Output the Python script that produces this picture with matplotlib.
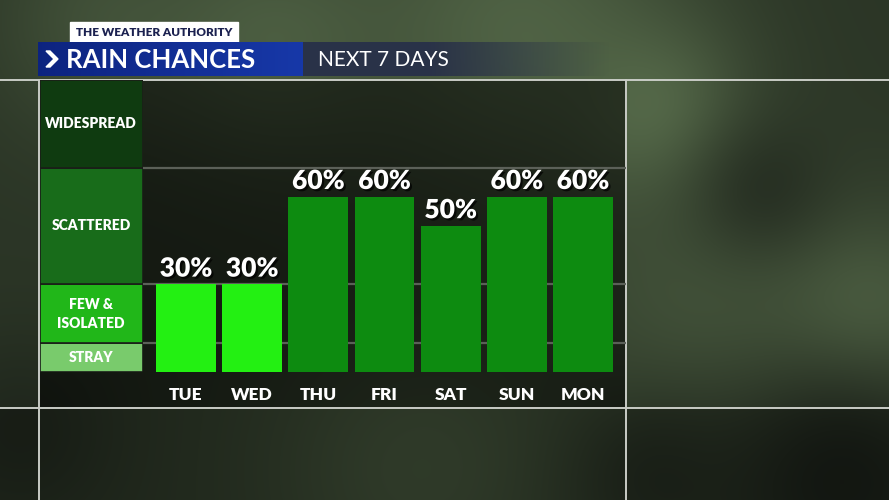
import numpy as np
import matplotlib

matplotlib.use("Agg")
import matplotlib.pyplot as plt
from matplotlib import patheffects as pe
from matplotlib.patches import Rectangle, Polygon

# --- data ---------------------------------------------------------------
days = ["TUE", "WED", "THU", "FRI", "SAT", "SUN", "MON"]
chances = [30, 30, 60, 60, 50, 60, 60]

levels = ["STRAY", "FEW &\nISOLATED", "SCATTERED", "WIDESPREAD"]
level_lo = [0, 10, 30, 70]
level_hi = [10, 30, 70, 100]
level_box_colors = ["#79cb6c", "#21b719", "#186c1a", "#0f3b10"]
level_bar_colors = ["#9be58c", "#23f012", "#0d8b10", "#0a5a0c"]

title = "RAIN CHANCES"
subtitle = "NEXT 7 DAYS"
brand = "THE WEATHER AUTHORITY"

plt.rcParams["font.family"] = ["Lato", "DejaVu Sans"]

W, H = 889, 500
fig = plt.figure(figsize=(W / 100, H / 100), dpi=100)

# --- blurred backdrop -----------------------------------------------------
bg = fig.add_axes([0, 0, 1, 1])
bg.set_xlim(0, W)
bg.set_ylim(H, 0)
bg.axis("off")

yy, xx = np.mgrid[0:H, 0:W]
img = np.ones((H, W, 3)) * np.array([0.17, 0.21, 0.15])
light = np.array([0.42, 0.52, 0.36])
dark = np.array([0.06, 0.07, 0.06])
blobs = [(270, 40, 90, 0.45, light), (520, 30, 120, 0.55, light),
         (660, 110, 60, 0.5, light), (720, 300, 110, 0.35, light),
         (870, 320, 70, 0.5, light), (100, 20, 80, 0.3, light),
         (420, 470, 110, 0.3, light), (760, 190, 55, 0.45, dark),
         (840, 470, 90, 0.7, dark), (20, 430, 70, 0.4, dark),
         (650, 470, 60, 0.4, dark)]
for bx, by, s, a, col in blobs:
    w = a * np.exp(-((xx - bx) ** 2 + (yy - by) ** 2) / (2 * s ** 2))
    img = img * (1 - w[..., None]) + col * w[..., None]
# darker panel behind the chart
panel = (xx >= 38) & (xx <= 626) & (yy >= 80) & (yy <= 408)
img[panel] *= 0.48
img[yy > 408] *= 0.75
bg.imshow(np.clip(img, 0, 1), extent=(0, W, H, 0), aspect="auto",
          interpolation="bilinear", zorder=0)

# frame lines
line_kw = dict(color="#c9ccc6", lw=1.4, zorder=2)
bg.plot([0, W], [79.5, 79.5], **line_kw)
bg.plot([0, W], [408, 408], **line_kw)
bg.plot([38.5, 38.5], [79.5, H], **line_kw)
bg.plot([626, 626], [79.5, H], **line_kw)

# header
bg.add_patch(Rectangle((70, 22), 168, 20, color="white", zorder=3))
bg.text(154, 32.5, brand, ha="center", va="center", fontsize=8.5,
        fontweight="heavy", color="#1b2150", zorder=4)
grad = np.linspace(0, 1, 256)[None, :, None]
blue = np.array([0.05, 0.14, 0.50]) * (1 - grad) + np.array([0.09, 0.22, 0.66]) * grad
bg.imshow(blue, extent=(38, 303, 76, 42), aspect="auto", zorder=3)
navy = np.ones((1, 256, 4))
navy[..., :3] = [0.16, 0.19, 0.29]
navy[..., 3] = np.clip(1.6 - 1.6 * np.linspace(0, 1, 256), 0, 0.95)
bg.imshow(navy, extent=(303, 610, 76, 42), aspect="auto", zorder=3)
bg.add_patch(Polygon([(46, 51), (50, 51), (58, 59), (50, 67), (46, 67), (54, 59)],
                     closed=True, color="white", zorder=4))
bg.text(66, 59.5, title, ha="left", va="center", fontsize=18.5,
        fontweight="bold", color="white", zorder=4)
bg.text(318, 60, subtitle, ha="left", va="center", fontsize=15,
        color="white", zorder=4)

# --- level legend column --------------------------------------------------
y0, y1 = 372, 80           # pixel rows for 0% and 100%
lg = fig.add_axes([39.5 / W, (H - y0) / H, (143 - 39.5) / W, (y0 - y1) / H])
lg.patch.set_alpha(0)
lg.set_xlim(0, 1)
lg.set_ylim(0, 100)
lg.axis("off")
heights = [hi - lo for lo, hi in zip(level_lo, level_hi)]
lg.bar([0.5] * 4, heights, bottom=level_lo, width=1, color=level_box_colors,
       edgecolor="#1a1d18", linewidth=1.2)
for name, lo, hi in zip(levels, level_lo, level_hi):
    lg.text(0.5, (lo + hi) / 2, name, ha="center", va="center", fontsize=10,
            fontweight="heavy", color="white", linespacing=1.55)

# --- bars -----------------------------------------------------------------
ax = fig.add_axes([143 / W, (H - y0) / H, (626 - 143) / W, (y0 - y1) / H])
ax.patch.set_alpha(0)
ax.set_xlim(-0.65, len(days) - 0.35)
ax.set_ylim(0, 100)
for s in ax.spines.values():
    s.set_visible(False)
ax.set_yticks([])
for lvl in level_hi[:-1]:
    ax.axhline(lvl, color="#5b6058", lw=1.6, zorder=1)


def bar_color(v):
    for lo, hi, c in zip(level_lo, level_hi, level_bar_colors):
        if lo < v <= hi:
            return c
    return level_bar_colors[0]


x = np.arange(len(days))
ax.bar(x, chances, width=0.905, color=[bar_color(v) for v in chances], zorder=2)
shadow = [pe.withSimplePatchShadow(offset=(1.5, -1.5), shadow_rgbFace="black",
                                   alpha=0.7)]
for xi, v in zip(x, chances):
    ax.text(xi, v + 1.3, f"{v}%", ha="center", va="bottom", fontsize=19,
            fontweight="heavy", color="white", path_effects=shadow, zorder=3)
ax.set_xticks(x, days)
ax.tick_params(axis="x", length=0, pad=11, labelsize=12.5, labelcolor="white")
for lab in ax.get_xticklabels():
    lab.set_fontweight("heavy")

fig.savefig("out.png", dpi=100)
